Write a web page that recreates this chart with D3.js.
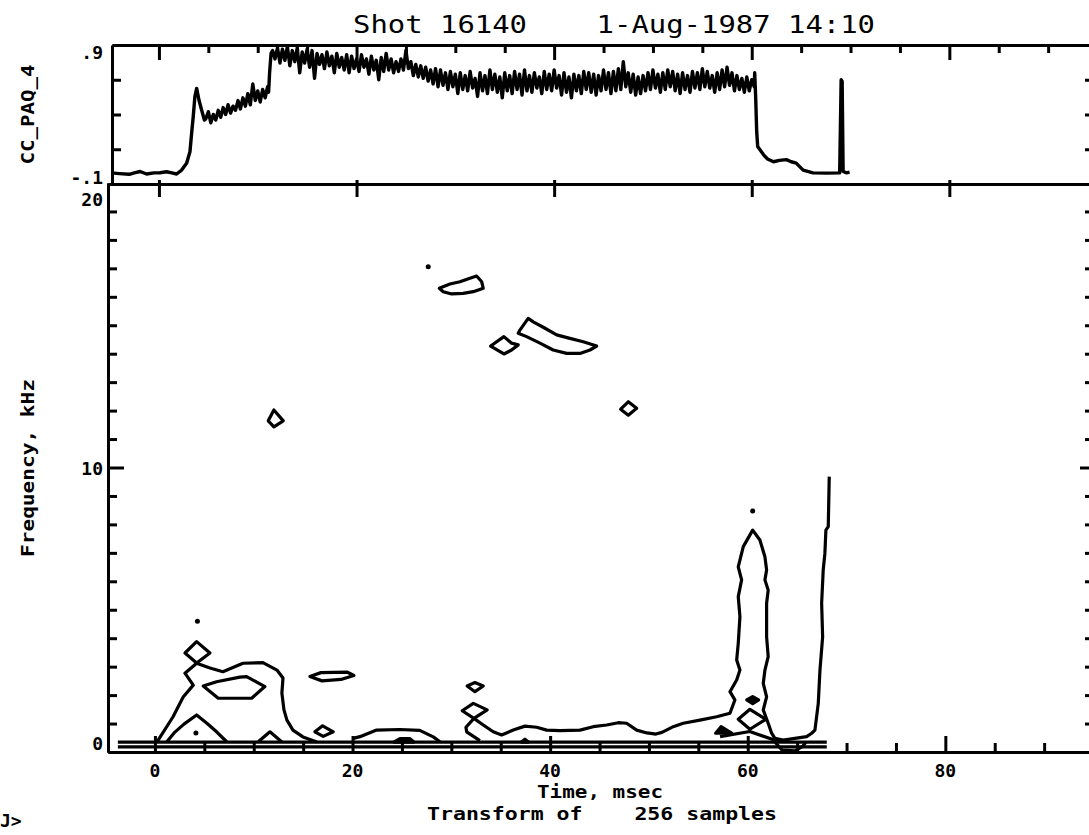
<!DOCTYPE html>
<html>
<head>
<meta charset="utf-8">
<script src="https://cdn.jsdelivr.net/npm/d3@7"></script>
<style>
body { margin: 0; background: #fff; }
svg { display: block; }
text { font-family: "DejaVu Sans Mono", "Liberation Mono", monospace; fill: #000; }
.lbl { font-weight: bold; font-size: 18px; }
</style>
</head>
<body>
<svg id="chart" width="1089" height="835"></svg>
<script>
// ---- axis ticks and labels
var timeMajor = [0, 20, 40, 60, 80];
var timeMinor = [5, 10, 15, 25, 30, 35, 45, 50, 55, 65, 70, 75, 85, 90];
var timeLabels = ["0", "20", "40", "60", "80"];
var ccTicks = [0.65, 0.4, 0.15];
var freqMinor = [1, 2, 3, 4, 5, 6, 7, 8, 9, 11, 12, 13, 14, 15, 16, 17, 18, 19];
var freqMajor = [10];

// ---- top trace CC_PAQ_4 (time ms, value)
var ccRise = [[-4.8,-0.02],[-4.0,-0.025],[-3.0,-0.03],[-2.5,-0.02],[-1.9,-0.01],[-1.25,-0.028],[-0.5,-0.02],[0.1,-0.019],
	[0.78,-0.012],[1.3,-0.02],[1.79,-0.028],[2.3,0.0],[2.8,0.049],[3.14,0.132],[3.31,0.265],[3.47,0.384],[3.64,0.528],
	[3.82,0.588],[4.05,0.504],[4.32,0.432],[4.6,0.36],[4.75,0.37],[5.0,0.42],[5.25,0.34],[5.5,0.40],[5.75,0.36],[6.0,0.43],
	[6.25,0.38],[6.5,0.45],[6.75,0.40],[7.0,0.47],[7.25,0.41],[7.5,0.46],[7.75,0.43],[8.0,0.50],[8.25,0.44],[8.5,0.52],
	[8.75,0.46],[9.0,0.55],[9.25,0.47],[9.5,0.62],[9.75,0.50],[10.0,0.57],[10.25,0.49],[10.5,0.58],[10.75,0.52],[11.0,0.60],
	[11.1,0.56],[11.2,0.70],[11.35,0.84]];
// noisy flat-top part, sampled every 0.25 ms from 11.5 ms
var ccBandStart = 11.5, ccBandStep = 0.25;
var ccBand = [
	0.86,0.80,0.88,0.77, 0.87,0.79,0.89,0.75, 0.86,0.78,0.88,0.70, 0.85,0.77,0.87,0.74, 0.86,0.66,0.84,0.76,
	0.83,0.73,0.85,0.75, 0.82,0.70,0.84,0.74, 0.81,0.72,0.83,0.70, 0.82,0.73,0.80,0.71, 0.83,0.74,0.80,0.69,
	0.82,0.72,0.79,0.65, 0.81,0.71,0.84,0.72, 0.80,0.70,0.78,0.71, 0.80,0.72,0.86,0.73, 0.78,0.68,0.76,0.67,
	0.75,0.66,0.74,0.64, 0.72,0.62,0.73,0.60, 0.72,0.61,0.70,0.58, 0.71,0.60,0.69,0.55, 0.70,0.58,0.68,0.57,
	0.71,0.59,0.66,0.53, 0.70,0.57,0.68,0.55, 0.72,0.58,0.69,0.56, 0.67,0.52,0.70,0.57, 0.68,0.55,0.71,0.58,
	0.69,0.54,0.72,0.57, 0.68,0.56,0.70,0.59, 0.67,0.55,0.71,0.58, 0.69,0.57,0.72,0.59, 0.68,0.54,0.70,0.56,
	0.67,0.52,0.69,0.57, 0.68,0.55,0.71,0.58, 0.70,0.56,0.69,0.54, 0.68,0.57,0.72,0.58, 0.70,0.55,0.71,0.57,
	0.73,0.58,0.78,0.60, 0.70,0.56,0.69,0.54, 0.67,0.55,0.68,0.57, 0.70,0.58,0.72,0.59, 0.69,0.56,0.70,0.58,
	0.72,0.60,0.71,0.57, 0.69,0.55,0.70,0.58, 0.68,0.56,0.71,0.59, 0.70,0.58,0.73,0.60, 0.71,0.59,0.68,0.56,
	0.70,0.58,0.72,0.60, 0.74,0.61,0.70,0.57, 0.68,0.58,0.66,0.56, 0.67,0.57,0.65,0.60];
var ccFall = [[60.3,0.70],[60.4,0.52],[60.5,0.28],[60.6,0.17],[60.8,0.15],[61.2,0.11],[61.6,0.08],[62.2,0.06],
	[62.8,0.07],[63.5,0.075],[64.0,0.06],[64.5,0.05],[65.2,0.0],[66.2,-0.02],[67.6,-0.022],[68.9,-0.02],[69.05,0.65],
	[69.15,0.64],[69.25,-0.01],[69.6,-0.02],[69.9,-0.015]];

// ---- spectrogram contours (time ms, frequency kHz)
var lineHat = [[0.2,0.35],[1.82,1.23],[2.86,1.93],[3.88,2.35],[3.04,2.77],[4.22,3.12],[5.57,2.95],[6.88,2.82],[8.91,3.12],
	[10.93,3.14],[12.35,2.88],[12.96,2.6],[12.85,2.07],[13.06,1.48],[13.36,1.12],[13.97,0.77],[14.98,0.53],[16.4,0.35]];
var lineHatInner = [[1.21,0.36],[2.02,0.7],[2.94,0.98],[4.22,1.3],[5.26,1.01],[6.24,0.71],[7.26,0.36]];
var lineHump = [[10.46,0.36],[11.64,0.71],[12.82,0.36]];
var lineMid = [[20.07,0.48],[20.75,0.54],[22.44,0.77],[24.8,0.79],[26.8,0.76],[28.17,0.53],[28.85,0.36]];
var lineLong = [[32.89,0.4],[31.55,0.71],[31.48,0.87],[32.29,1.18],[33.23,0.95],[34.24,0.71],[35.09,0.6],[36.27,0.77],
	[37.45,0.91],[38.63,0.87],[39.65,0.77],[40.99,0.75],[43.02,0.77],[44.36,0.89],[45.72,0.95],[46.89,1.03],[47.74,1.01],
	[48.76,0.77],[49.8,0.67],[50.71,0.63],[51.32,0.69],[52.46,0.89],[53.47,1.01],[55.16,1.12],[56.85,1.24],[58.2,1.36],
	[58.7,1.83],[58.2,2.12],[58.88,2.53],[59.21,2.88],[58.88,3.23],[59.04,3.82],[59.21,4.76],[59.04,5.46],[59.38,6.05],
	[59.04,6.51],[59.55,7.22],[60.5,7.8],[61.23,7.45],[61.74,6.86],[61.91,6.4],[61.74,6.05],[62.07,5.69],[61.91,5.23],
	[61.91,4.05],[62.07,3.35],[61.74,2.88],[61.57,2.41],[61.91,1.94],[61.57,1.48],[62.07,1.01],[62.42,0.66],[62.75,0.48],
	[63.59,0.42],[65.96,0.54],[66.47,0.66],[66.8,0.77],[67.14,1.71],[67.31,2.88],[67.58,4.05],[67.48,5.23],[67.64,6.4],
	[67.81,6.98],[67.91,7.8],[68.15,7.92],[68.25,9.68]];
var lineV = [[57.2,0.54],[60.2,0.72],[63.2,0.36]];
var lineU = [[62.75,0.35],[63.46,0.07],[64.78,0.04],[65.59,0.21],[65.9,0.35]];
var lineBaseHigh = [[-3.75,0.35],[68.0,0.35]];
var lineBaseLow = [[-3.75,0.18],[68.0,0.18]];

var loopDiamondA = [[4.22,3.88],[5.57,3.48],[4.22,3.13],[3.04,3.48]];
var loopHex = [[4.89,2.32],[6.24,2.47],[8.6,2.63],[9.28,2.65],[11.13,2.3],[9.79,1.89],[6.41,1.89]];
var loopOval = [[15.69,2.65],[16.8,2.79],[19.43,2.81],[20.14,2.69],[18.83,2.55],[16.9,2.5]];
var loopDiamondB = [[16.19,0.71],[16.97,0.92],[18.05,0.71],[17.03,0.55]];
var loopEye = [[31.6,2.32],[32.39,2.44],[33.23,2.32],[32.39,2.12]];
var loopDiamondC = [[32.22,1.71],[33.63,1.48],[32.29,1.18],[31.1,1.45]];
var loopDiamondD = [[12.04,12.02],[12.99,11.64],[12.04,11.43],[11.47,11.64]];
var loopDiamondE = [[47.91,12.31],[48.76,12.08],[47.91,11.84],[47.14,12.05]];
var loopDiamondF = [[60.22,1.5],[61.84,1.15],[60.22,0.8],[59.04,1.15]];
var loopStreak = [[28.78,16.3],[29.86,16.45],[30.87,16.53],[31.88,16.65],[32.56,16.73],[33.07,16.53],[33.23,16.3],
	[32.22,16.18],[31.2,16.12],[30.03,16.1],[29.18,16.18]];
var loopKite = [[33.98,14.27],[35.32,14.6],[36.1,14.37],[36.77,14.31],[36.1,14.13],[35.32,13.99]];
var loopBar = [[37.78,15.24],[36.94,14.83],[36.77,14.72],[37.62,14.6],[38.97,14.37],[40.31,14.13],[41.67,14.01],
	[43.02,14.01],[44.03,14.13],[44.71,14.27],[43.35,14.42],[42.0,14.54],[40.66,14.66],[39.3,14.93],[38.29,15.12]];
// small solid patches
var blobMound = [[24.19,0.35],[24.8,0.47],[25.81,0.47],[26.21,0.35]];
var blobBump = [[37.1,0.35],[37.45,0.45],[37.8,0.35]];
var blobTri = [[56.75,0.66],[57.3,0.89],[58.37,0.66]];
var blobSpike = [[59.9,1.83],[60.5,1.95],[61.1,1.83],[60.5,1.7]];
var dotPoints = [[4.3,4.6],[27.66,17.06],[60.5,8.47],[4.15,0.67]];

// ---- layout
var svg = d3.select("#chart");
var x = d3.scaleLinear().domain([-4.75, 94.5]).range([108, 1088.6]);
var xTop = d3.scaleLinear().domain([-4.75, 94.5]).range([112, 1092.6]);
var yTop = d3.scaleLinear().domain([-0.1, 0.9]).range([184, 45]);
var yBot = d3.scaleLinear().domain([0, 20]).range([752, 183]);

function blackAxis(g, axis) {
	g.call(axis);
	g.selectAll("path, line").attr("stroke", "#000").attr("stroke-width", 3).attr("fill", "none");
	g.selectAll("text").remove();
}
function addAxis(tx, ty, axis) {
	var g = svg.append("g").attr("transform", "translate(" + tx + "," + ty + ")");
	blackAxis(g, axis.tickSizeOuter(0).tickFormat(""));
}

// top panel frame
addAxis(0, 45, d3.axisBottom(xTop).tickValues(timeMinor).tickSize(8));
addAxis(0, 45, d3.axisBottom(xTop).tickValues(timeMajor).tickSize(15));
addAxis(112, 0, d3.axisRight(yTop).tickValues(ccTicks).tickSize(9));
addAxis(1091, 0, d3.axisLeft(yTop).tickValues(ccTicks).tickSize(6));
// shared line between panels
addAxis(0, 184, d3.axisTop(x).tickValues([]));
addAxis(0, 184, d3.axisBottom(xTop).tickValues(timeMajor).tickSize(13));
addAxis(0, 184, d3.axisTop(xTop).tickValues(timeMajor).tickSize(4));
// bottom panel frame
addAxis(108, 0, d3.axisRight(yBot).tickValues(freqMinor).tickSize(9));
addAxis(108, 0, d3.axisRight(yBot).tickValues(freqMajor).tickSize(16));
addAxis(1091, 0, d3.axisLeft(yBot).tickValues(freqMinor).tickSize(6));
addAxis(1091, 0, d3.axisLeft(yBot).tickValues(freqMajor).tickSize(11));
addAxis(0, 752, d3.axisTop(x).tickValues(timeMinor).tickSize(9));
addAxis(0, 752, d3.axisTop(x).tickValues(timeMajor).tickSize(16));

// top trace
var ccBandPts = ccBand.map(function(v, i) { return [ccBandStart + i * ccBandStep, v]; });
var ccTrace = ccRise.concat(ccBandPts, ccFall);
var traceLine = d3.line().x(function(d) { return xTop(d[0]); }).y(function(d) { return yTop(d[1]); });
svg.append("path")
	.attr("d", traceLine(ccTrace))
	.attr("fill", "none")
	.attr("stroke", "#000")
	.attr("stroke-width", 3.4)
	.attr("stroke-linejoin", "round");

// contours
var cLine = d3.line().x(function(d) { return x(d[0]); }).y(function(d) { return yBot(d[1]); });
var cLoop = d3.line().curve(d3.curveLinearClosed).x(function(d) { return x(d[0]); }).y(function(d) { return yBot(d[1]); });
var openLines = [lineHat, lineHatInner, lineHump, lineMid, lineLong, lineV, lineU, lineBaseHigh, lineBaseLow];
var loops = [loopDiamondA, loopHex, loopOval, loopDiamondB, loopEye, loopDiamondC, loopDiamondD, loopDiamondE,
	loopDiamondF, loopStreak, loopKite, loopBar];
var blobs = [blobMound, blobBump, blobTri, blobSpike];

var cg = svg.append("g").attr("stroke", "#000").attr("stroke-width", 3.2).attr("stroke-linejoin", "round");
cg.selectAll(".open").data(openLines).enter().append("path")
	.attr("class", "open").attr("fill", "none").attr("d", cLine);
cg.selectAll(".loop").data(loops).enter().append("path")
	.attr("class", "loop").attr("fill", "none").attr("d", cLoop);
cg.selectAll(".blob").data(blobs).enter().append("path")
	.attr("class", "blob").attr("fill", "#000").attr("d", cLoop);
cg.selectAll(".dot").data(dotPoints).enter().append("circle")
	.attr("class", "dot").attr("fill", "#000").attr("stroke", "none")
	.attr("cx", function(d) { return x(d[0]); })
	.attr("cy", function(d) { return yBot(d[1]); })
	.attr("r", 2.5);

// tick labels
svg.selectAll(".tlab").data(timeMajor).enter().append("text")
	.attr("class", "lbl tlab")
	.attr("x", function(d) { return x(d); })
	.attr("y", 777)
	.attr("text-anchor", "middle")
	.text(function(d, i) { return timeLabels[i]; });

function leftLabel(txt, yy) {
	svg.append("text").attr("class", "lbl").attr("x", 103).attr("y", yy)
		.attr("text-anchor", "end").text(txt);
}
leftLabel(".9", yTop(0.9) + 14);
leftLabel("-.1", yTop(-0.1));
leftLabel("20", yBot(20) + 23);
leftLabel("10", yBot(10) + 7);
leftLabel("0", yBot(0) - 2);

// titles
svg.append("text")
	.attr("x", 353).attr("y", 33)
	.attr("font-size", 25)
	.attr("textLength", 522).attr("lengthAdjust", "spacingAndGlyphs")
	.style("white-space", "pre")
	.text("Shot 16140    1-Aug-1987 14:10");

svg.append("text").attr("class", "lbl")
	.attr("transform", "translate(34," + ((45 + 184) / 2) + ") rotate(-90)")
	.attr("text-anchor", "middle")
	.attr("textLength", 100).attr("lengthAdjust", "spacingAndGlyphs")
	.text("CC_PAQ_4");

svg.append("text").attr("class", "lbl")
	.attr("transform", "translate(34," + ((184 + 752) / 2) + ") rotate(-90)")
	.attr("text-anchor", "middle")
	.attr("textLength", 178).attr("lengthAdjust", "spacingAndGlyphs")
	.style("white-space", "pre")
	.text("Frequency, kHz");

svg.append("text").attr("class", "lbl")
	.attr("x", 600).attr("y", 798)
	.attr("text-anchor", "middle")
	.attr("textLength", 126).attr("lengthAdjust", "spacingAndGlyphs")
	.text("Time, msec");

svg.append("text").attr("class", "lbl")
	.attr("x", 427).attr("y", 820)
	.attr("textLength", 350).attr("lengthAdjust", "spacingAndGlyphs")
	.style("white-space", "pre")
	.text("Transform of    256 samples");

svg.append("text").attr("class", "lbl")
	.attr("x", 0).attr("y", 827)
	.text("J>");
</script>
</body>
</html>
